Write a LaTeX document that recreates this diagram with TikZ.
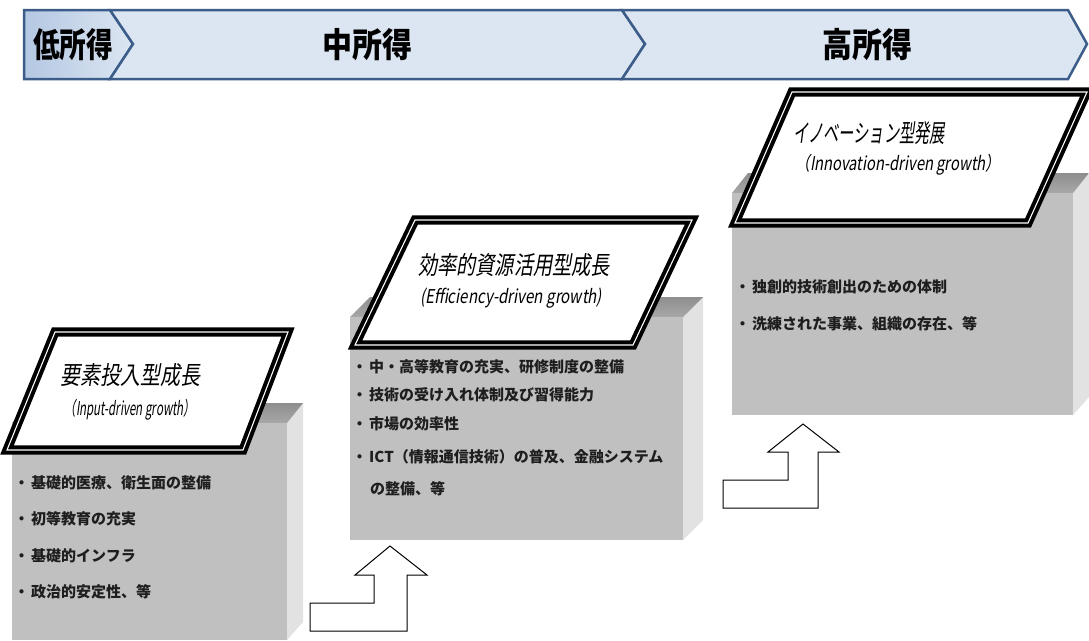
\documentclass[tikz,border=0pt]{standalone}
\usepackage{fontspec}
\usepackage{graphicx}
\newfontfamily\jp{Noto Sans CJK JP}
\newfontfamily\jpit[FakeSlant=0.22]{Noto Sans CJK JP}
\newcommand{\fitw}[2]{\resizebox{#1}{\height}{#2}}
\definecolor{chevline}{HTML}{3C5D8A}
\definecolor{chevfill}{HTML}{DCE6F2}
\definecolor{chevdark}{HTML}{B4C8E2}
\definecolor{boxfront}{HTML}{C0C0C0}
\definecolor{boxtop}{HTML}{A8A8A8}
\definecolor{boxtopdark}{HTML}{8E8E8E}
\definecolor{boxside}{HTML}{E2E2E2}
\definecolor{bullettext}{HTML}{1E1E1E}
\begin{document}
\begin{tikzpicture}[x=1pt,y=-1pt,
  chev/.style={draw=chevline, line width=2.5pt, line join=miter, fill=chevfill},
  banner/.style={font=\jp\bfseries\fontsize{34}{34}\selectfont, inner sep=0pt},
  para/.style={draw=black, line width=4pt, double=white, double distance=1.1pt, fill=white, line join=miter},
  ptitle/.style={font=\jpit\fontsize{25}{25}\selectfont, inner sep=0pt},
  psub/.style={font=\jpit\fontsize{19}{19}\selectfont, inner sep=0pt},
  item/.style={font=\jp\bfseries\fontsize{15}{15}\selectfont, text=bullettext, anchor=west, inner sep=0pt},
  blockarrow/.style={draw=black, line width=1pt, fill=white, line join=miter}]
\useasboundingbox (0,0) rectangle (1089,640);

% ---- banner chevrons ----
\path[chev, left color=chevdark, right color=chevfill] (24,10) -- (110,10) -- (133,44) -- (110,79) -- (24,79) -- cycle;
\path[chev] (110,10) -- (622,10) -- (645,44) -- (622,79) -- (110,79) -- (133,44) -- cycle;
\path[chev] (622,10) -- (1068,10) -- (1087,44) -- (1068,79) -- (622,79) -- (645,44) -- cycle;
\node[banner] (low) at (73,45) {\fitw{80pt}{低所得}};
\node[banner] (mid) at (367,45) {\fitw{90pt}{中所得}};
\node[banner] (high) at (867,45) {\fitw{90pt}{高所得}};

% ---- box 1 ----
\fill[boxside] (287,423) -- (303,403) -- (303,622) -- (287,640) -- cycle;
\shade[top color=boxtopdark, bottom color=boxtop] (12,423) -- (28,403) -- (303,403) -- (287,423) -- cycle;
\fill[boxfront] (12,423) rectangle (287,640);
% ---- box 2 ----
\fill[boxside] (683,317) -- (703,297) -- (703,520) -- (683,540) -- cycle;
\shade[top color=boxtopdark, bottom color=boxtop] (350,317) -- (370,297) -- (703,297) -- (683,317) -- cycle;
\fill[boxfront] (350,317) rectangle (683,540);
% ---- box 3 ----
\fill[boxside] (1073,193) -- (1089,173) -- (1089,397) -- (1073,415) -- cycle;
\shade[top color=boxtopdark, bottom color=boxtop] (732,193) -- (748,173) -- (1089,173) -- (1073,193) -- cycle;
\fill[boxfront] (732,193) rectangle (1073,415);

% ---- box texts ----
\node[item] (a1) at (14,483) {・\hspace{2pt}基礎的医療、衛生面の整備};
\node[item] (a2) at (14,519) {・\hspace{2pt}初等教育の充実};
\node[item] (a3) at (14,556) {・\hspace{2pt}基礎的インフラ};
\node[item] (a4) at (14,592) {・\hspace{2pt}政治的安定性、等};

\node[item] (b1) at (352,367) {・\hspace{2pt}中・高等教育の充実、研修制度の整備};
\node[item] (b2) at (352,395) {・\hspace{2pt}技術の受け入れ体制及び習得能力};
\node[item] (b3) at (352,424) {・\hspace{2pt}市場の効率性};
\node[item] (b4) at (352,457) {・\hspace{2pt}ICT（情報通信技術）の普及、金融システム};
\node[item] (b5) at (370,489) {の整備、等};

\node[item] (c1) at (735,287) {・\hspace{2pt}独創的技術創出のための体制};
\node[item] (c2) at (735,324) {・\hspace{2pt}洗練された事業、組織の存在、等};

% ---- parallelograms ----
\path[para] (7,450) -- (243,450) -- (288,332) -- (55,332) -- cycle;
\node[ptitle] (t1) at (130,375) {\fitw{140pt}{要素投入型成長}};
\node[psub] (s1) at (130,410) {\fitw{130pt}{（Input-driven growth）}};

\path[para] (355,345) -- (633,345) -- (692,220) -- (415,220) -- cycle;
\node[ptitle] (t2) at (514,265) {\fitw{192pt}{効率的資源活用型成長}};
\node[psub] (s2) at (511,298) {\fitw{182pt}{(Efficiency-driven growth)}};

\path[para] (735,223) -- (1028,223) -- (1087,92) -- (792,92) -- cycle;
\node[ptitle] (t3) at (869,133) {\fitw{152pt}{イノベーション型発展}};
\node[psub] (s3) at (898,165) {\fitw{205pt}{（Innovation-driven growth）}};

% ---- bent up arrows ----
\path[blockarrow] (310,603) -- (374,603) -- (374,575) -- (355,575) -- (390,546) -- (427,575) -- (407,575) -- (407,631) -- (310,631) -- cycle;
\path[blockarrow] (723,480) -- (788,480) -- (788,452) -- (768,452) -- (803,424) -- (839,452) -- (818,452) -- (818,508) -- (723,508) -- cycle;
\end{tikzpicture}
\end{document}
